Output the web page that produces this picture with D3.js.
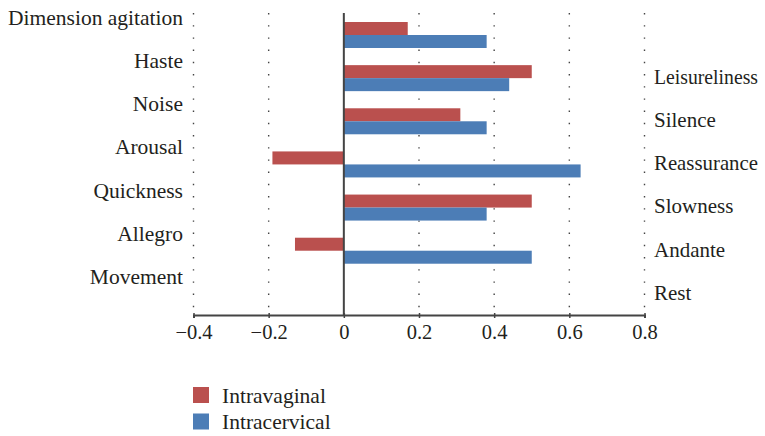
<!DOCTYPE html>
<html><head><meta charset="utf-8">
<script src="https://cdn.jsdelivr.net/npm/d3@7"></script>
<style>body{margin:0;background:#fff;}svg{display:block;}text{font-family:"Liberation Serif","DejaVu Serif",serif;fill:#231f20;}</style>
</head><body>
<script>
const leftLabels = ["Dimension agitation","Haste","Noise","Arousal","Quickness","Allegro","Movement"];
const rightLabels = ["","Leisureliness","Silence","Reassurance","Slowness","Andante","Rest"];
const seriesNames = ["Intravaginal","Intracervical"];
const intravaginal = [0.17,0.50,0.31,-0.19,0.50,-0.13,0];
const intracervical = [0.38,0.44,0.38,0.63,0.38,0.50,0];
const xTicks = [-0.4,-0.2,0,0.2,0.4,0.6,0.8];
const colors = ["#BA504E","#4C7DB6"];

const W=765,H=436;
const svg=d3.select("body").append("svg").attr("width",W).attr("height",H);
const x=d3.scaleLinear().domain([-0.4,0.8]).range([193.5,644.5]);
const y=d3.scaleBand().domain(d3.range(leftLabels.length)).range([13,315]);
const ys=d3.scaleBand().domain(seriesNames).range([9,35]);
const vals=[intravaginal,intracervical];

// dotted grid
svg.append("g").selectAll("line").data(xTicks.filter(d=>d!==0)).join("line")
 .attr("x1",d=>x(d)).attr("x2",d=>x(d)).attr("y1",13).attr("y2",313)
 .attr("stroke","#444").attr("stroke-width",1.4).attr("stroke-dasharray","1.4,10.8");

// bars
seriesNames.forEach((s,si)=>{
  svg.append("g").selectAll("rect").data(vals[si]).join("rect")
   .attr("x",d=>x(Math.min(0,d))).attr("width",d=>Math.abs(x(d)-x(0)))
   .attr("y",(d,i)=>y(i)+ys(s)).attr("height",ys.bandwidth())
   .attr("fill",colors[si]);
});

// zero line
svg.append("line").attr("x1",x(0)).attr("x2",x(0)).attr("y1",13).attr("y2",315)
 .attr("stroke","#444").attr("stroke-width",2);

// axis
const ax=svg.append("g").attr("transform","translate(0,315)")
 .call(d3.axisBottom(x).tickValues(xTicks).tickSize(3).tickFormat(d=>d===0?"0":d3.format(".1f")(d).replace("-","\u2212")));
ax.select(".domain").attr("stroke","#444").attr("stroke-width",2);
ax.selectAll(".tick line").attr("stroke","#444").attr("stroke-width",1.5).attr("y1",-2);
ax.selectAll(".tick text").attr("font-size",20.5).attr("font-family","Liberation Serif").attr("fill","#231f20").attr("y",9).attr("dy","0.75em");

// labels
svg.append("g").selectAll("text").data(leftLabels).join("text")
 .attr("x",183).attr("y",(d,i)=>y(i)+4.5).attr("dy","0.35em").attr("text-anchor","end")
 .attr("font-size",21.5).text(d=>d);
svg.append("g").selectAll("text").data(rightLabels).join("text")
 .attr("x",654).attr("y",(d,i)=>y(i)+y.bandwidth()/2-1).attr("dy","0.35em")
 .attr("font-size",21).text(d=>d)
 .each(function(){ if(this.getComputedTextLength()>104){ d3.select(this).attr("textLength",104).attr("lengthAdjust","spacingAndGlyphs"); } });

// legend
const lg=svg.append("g");
seriesNames.forEach((s,i)=>{
  lg.append("rect").attr("x",193).attr("y",387+i*26.5).attr("width",16).attr("height",16).attr("fill",colors[i]);
  lg.append("text").attr("x",222).attr("y",395+i*26.5).attr("dy","0.35em").attr("font-size",21.5).text(s);
});
</script>
</body></html>
